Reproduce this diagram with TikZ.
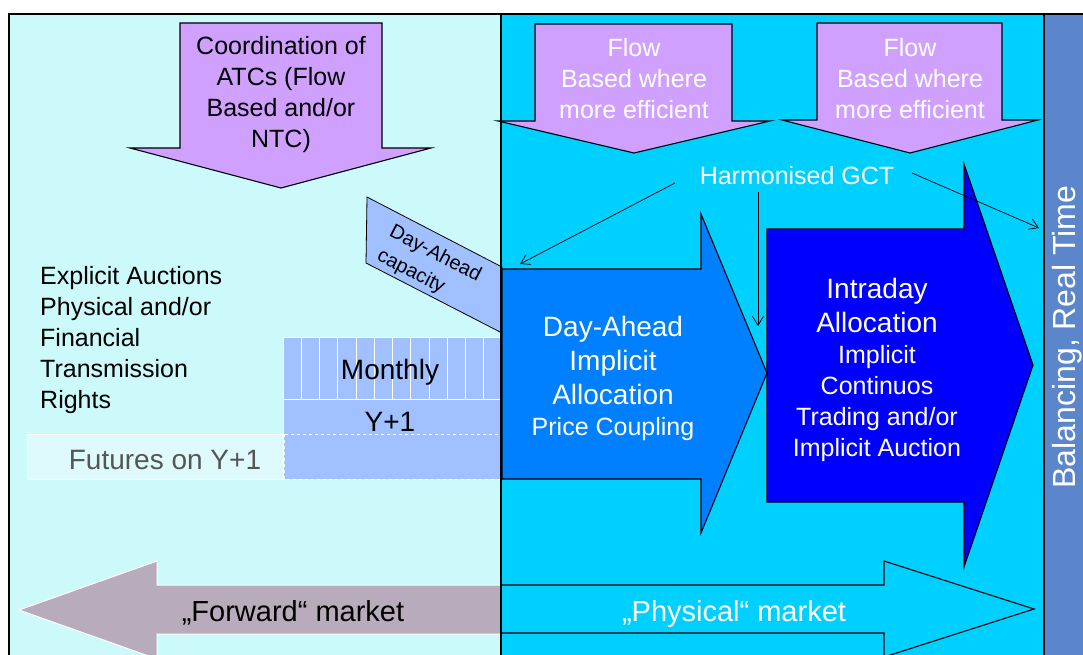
\documentclass[tikz,border=0pt]{standalone}
\usepackage{fontspec}
\setmainfont{Liberation Sans}
\usetikzlibrary{arrows.meta}
\definecolor{paleCyan}{HTML}{CCF9FA}
\definecolor{skyCyan}{HTML}{00D0FF}
\definecolor{lilac}{HTML}{D0A0FF}
\definecolor{daBlue}{HTML}{0080FF}
\definecolor{idBlue}{HTML}{0000FF}
\definecolor{capBlue}{HTML}{A0C0FF}
\definecolor{balBlue}{HTML}{5B86CC}
\definecolor{fwdMauve}{HTML}{B8ACBC}
\definecolor{futPale}{HTML}{DEFAFC}
\definecolor{futGrey}{HTML}{555555}
\newcommand{\smallline}{\fontsize{25}{31}\selectfont}
\begin{document}
\begin{tikzpicture}[x=1pt,y=-1pt,
  txt/.style={inner sep=0pt, align=center, font=\fontsize{25}{31}\selectfont},
  bigtxt/.style={inner sep=0pt, align=center, font=\fontsize{28}{34}\selectfont},
  shapeline/.style={draw=black, line width=1.1pt, line join=miter},
  gctline/.style={draw=black, line width=0.7pt, -{Straight Barb[length=9pt,width=11pt]}},
  cell/.style={draw=white, line width=1pt, fill=capBlue}]
\useasboundingbox (0,0) rectangle (1083,655);
\clip (0,0) rectangle (1083,655);

% background panels
\fill[white] (0,0) rectangle (1083,655);
\fill[paleCyan] (9,14) rectangle (501,655);
\fill[skyCyan] (501,14) rectangle (1044,655);
\fill[balBlue] (1044,14) rectangle (1083,655);

% capacity coordination arrows (pointing down)
\path[shapeline, fill=lilac] (180,23) -- (382,23) -- (382,148) -- (431,148) -- (281,188)
  -- (130,148) -- (180,148) -- cycle;
\path[shapeline, fill=lilac] (535,24) -- (732,24) -- (732,121) -- (770,121) -- (634,153)
  -- (498,121) -- (535,121) -- cycle;
\path[shapeline, fill=lilac] (817,23) -- (1002,23) -- (1002,120) -- (1038,120) -- (910,153)
  -- (782,120) -- (817,120) -- cycle;

% forward / physical market arrows
\path[draw=white, line width=1pt, fill=fwdMauve] (501,585) -- (157,585) -- (157,561) -- (19,610)
  -- (157,659) -- (157,634) -- (501,634) -- cycle;
\fill[skyCyan] (501,585) -- (884,585) -- (884,561) -- (1034,609) -- (884,657) -- (884,633)
  -- (501,633) -- cycle;
\path[shapeline] (501,585) -- (884,585) -- (884,561) -- (1034,609) -- (884,657) -- (884,633)
  -- (501,633);

% day-ahead capacity tab
\path[draw=black, line width=0.8pt, fill=capBlue] (367,197) -- (502,267) -- (502,333) -- (366,263) -- cycle;

% monthly products
\foreach \i in {0,...,11} {
  \path[cell] ({283+\i*18.25},337) rectangle ++(18.25,62);
}
\path[cell] (283,399) rectangle (502,434);
\path[draw=white, line width=1pt, fill=futPale] (27,434) rectangle (283,479);
\path[draw=white, line width=1pt, dashed, fill=capBlue] (284,434) rectangle (502,479);

% allocation arrows
\path[shapeline, fill=daBlue] (502,269) -- (701,269) -- (701,214) -- (767,373) -- (701,533)
  -- (701,479) -- (502,479) -- cycle;
\path[shapeline, fill=idBlue] (767,229) -- (964,229) -- (964,164) -- (1033,365) -- (964,567)
  -- (964,502) -- (767,502) -- cycle;

% panel borders
\draw[black, line width=1.1pt] (9,655) -- (9,14) -- (1083,14);
\draw[black, line width=1.1pt] (501,14) -- (501,655);
\draw[black, line width=1.1pt] (1044,14) -- (1044,655);

% texts
\node[txt] (coord) at (281,95) {Coordination of\\ATCs (Flow\\Based and/or\\NTC)};
\node[txt, text=white] (flowA) at (634,79) {Flow\\Based where\\more efficient};
\node[txt, text=white] (flowB) at (910,79) {Flow\\Based where\\more efficient};
\node[txt, text=white, anchor=base] (gct) at (797,184) {Harmonised GCT};
\node[txt, align=left, anchor=west] (explicit) at (40,340)
  {Explicit Auctions\\Physical and/or\\Financial\\Transmission\\Rights};
\node[inner sep=0pt, align=left, rotate=-27.4, font=\fontsize{20}{27}\selectfont] (dacap) at (429,266)
  {Day-Ahead\\capacity};
\node[inner sep=0pt, anchor=base, font=\fontsize{28}{34}\selectfont] (monthly) at (390,379) {Monthly};
\node[inner sep=0pt, anchor=base, font=\fontsize{28}{34}\selectfont] (yone) at (390,431) {Y+1};
\node[inner sep=0pt, anchor=base, text=futGrey, font=\fontsize{28}{34}\selectfont] (futures) at (165,469) {Futures on Y+1};
\node[bigtxt, text=white] (dayahead) at (613,378)
  {Day-Ahead\\Implicit\\Allocation\\[-3pt]\smallline Price Coupling};
\node[bigtxt, text=white] (intraday) at (877,370)
  {Intraday\\Allocation\\[-3pt]\smallline Implicit\\[-3pt]\smallline Continuos\\[-3pt]\smallline Trading and/or\\[-3pt]\smallline Implicit Auction};
\node[inner sep=0pt, anchor=base, font=\fontsize{29}{35}\selectfont] (fwd) at (293,621) {„Forward“ market};
\node[inner sep=0pt, anchor=base, text=white, font=\fontsize{29}{35}\selectfont] (phys) at (734,621) {„Physical“ market};
\node[inner sep=0pt, rotate=90, text=white, font=\fontsize{32}{38}\selectfont] (balancing) at (1067,337) {Balancing, Real Time};

% gate closure pointers
\coordinate (gctL) at (675,183);
\coordinate (gctM) at (758,192);
\coordinate (gctR) at (912,173);
\coordinate (daEntry) at (520,264);
\coordinate (idEntry) at (758,326);
\coordinate (rtEntry) at (1039,228);
\draw[gctline] (gctL) -- (daEntry);
\draw[gctline] (gctM) -- (idEntry);
\draw[gctline] (gctR) -- (rtEntry);
\end{tikzpicture}
\end{document}
